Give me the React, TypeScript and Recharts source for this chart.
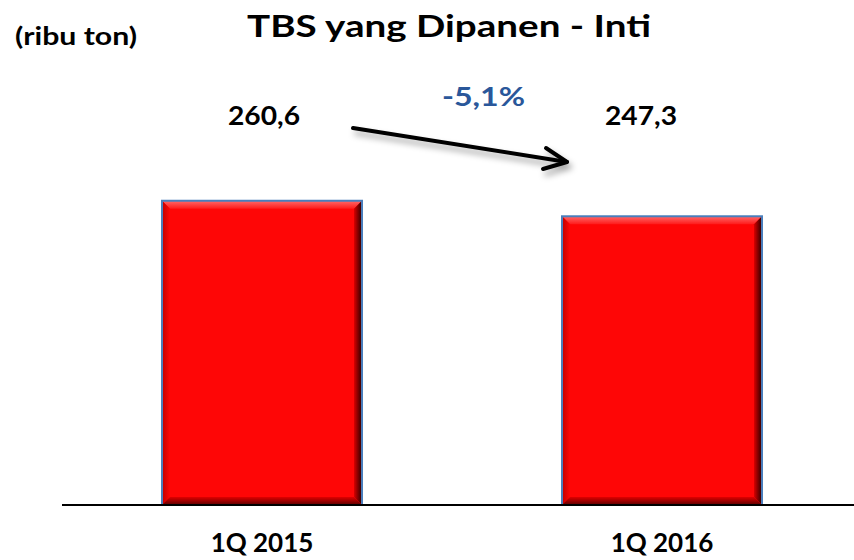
import { BarChart, Bar, XAxis, YAxis, LabelList } from 'recharts';

const periods = ['1Q 2015', '1Q 2016'];
const harvested = [260.6, 247.3];
const valueLabels = ['260,6', '247,3'];
const changeLabel = '-5,1%';
const titleText = 'TBS yang Dipanen - Inti';
const unitText = '(ribu ton)';

const data = periods.map((period, i) => ({
  period,
  value: harvested[i],
  label: valueLabels[i],
}));

const FONT = 'Lato, "Open Sans", sans-serif';
const labelShift = [2, -21];

function BevelBar(props: any) {
  const { x, y, width: w, height: h, index } = props;
  if (!w || !h) return null;
  const b = 8;
  const id = `bev${index}`;
  return (
    <g>
      <defs>
        <linearGradient id={`${id}t`} x1="0" y1="0" x2="0" y2="1">
          <stop offset="0%" stopColor="#ff6a6a" />
          <stop offset="100%" stopColor="#ff1a1a" />
        </linearGradient>
        <linearGradient id={`${id}r`} x1="0" y1="0" x2="1" y2="0">
          <stop offset="0%" stopColor="#d80000" />
          <stop offset="100%" stopColor="#2a0000" />
        </linearGradient>
        <linearGradient id={`${id}b`} x1="0" y1="0" x2="0" y2="1">
          <stop offset="0%" stopColor="#e00000" />
          <stop offset="100%" stopColor="#5a0000" />
        </linearGradient>
        <linearGradient id={`${id}l`} x1="0" y1="0" x2="1" y2="0">
          <stop offset="0%" stopColor="#c00000" />
          <stop offset="100%" stopColor="#fe0606" />
        </linearGradient>
      </defs>
      <rect x={x} y={y} width={w} height={h} fill="#fe0606" />
      <polygon
        points={`${x},${y} ${x + w},${y} ${x + w - b},${y + b} ${x + b},${y + b}`}
        fill={`url(#${id}t)`}
      />
      <polygon
        points={`${x},${y} ${x + b},${y + b} ${x + b},${y + h - b} ${x},${y + h}`}
        fill={`url(#${id}l)`}
      />
      <polygon
        points={`${x + w},${y} ${x + w},${y + h} ${x + w - b},${y + h - b} ${x + w - b},${y + b}`}
        fill={`url(#${id}r)`}
      />
      <polygon
        points={`${x},${y + h} ${x + w},${y + h} ${x + w - b},${y + h - b} ${x + b},${y + h - b}`}
        fill={`url(#${id}b)`}
      />
      <rect x={x} y={y} width={w} height={h} fill="none" stroke="#4a7ebb" strokeWidth={2} />
    </g>
  );
}

function ValueLabel(props: any) {
  const { x, width, value, index } = props;
  return (
    <text
      x={x + width / 2 + labelShift[index]}
      y={125}
      textAnchor="middle"
      fontFamily={FONT}
      fontWeight={700}
      fontSize={27}
      textLength={72}
      lengthAdjust="spacingAndGlyphs"
      fill="#000"
    >
      {value}
    </text>
  );
}

export default function App() {
  return (
    <div style={{ position: 'absolute', left: 0, top: 0, width: 854, height: 560, background: '#fff' }}>
      <BarChart
        width={854}
        height={560}
        data={data}
        margin={{ top: 38, right: -8, bottom: 25, left: 62 }}
        barSize={200}
      >
        <XAxis
          dataKey="period"
          axisLine={{ stroke: '#000', strokeWidth: 2 }}
          tickLine={false}
          tickSize={0}
          tickMargin={29}
          tick={{ fontFamily: FONT, fontWeight: 700, fontSize: 26, fill: '#000' }}
        />
        <YAxis hide domain={[0, 400]} />
        <Bar dataKey="value" shape={<BevelBar />} isAnimationActive={false}>
          <LabelList dataKey="label" content={<ValueLabel />} />
        </Bar>
      </BarChart>
      <svg
        width={854}
        height={560}
        style={{ position: 'absolute', left: 0, top: 0, pointerEvents: 'none' }}
      >
        <defs>
          <filter id="arrowShadow" x="-20%" y="-50%" width="140%" height="200%">
            <feDropShadow dx={3} dy={5} stdDeviation={3} floodColor="#000" floodOpacity={0.35} />
          </filter>
        </defs>
        <text
          x={15}
          y={45}
          fontFamily={FONT}
          fontWeight={700}
          fontSize={24}
          textLength={122}
          lengthAdjust="spacingAndGlyphs"
          fill="#000"
        >
          {unitText}
        </text>
        <text
          x={247}
          y={37}
          fontFamily={FONT}
          fontWeight={700}
          fontSize={31}
          textLength={404}
          lengthAdjust="spacingAndGlyphs"
          fill="#000"
        >
          {titleText}
        </text>
        <text
          x={442}
          y={106}
          fontFamily={FONT}
          fontWeight={700}
          fontSize={27}
          textLength={83}
          lengthAdjust="spacingAndGlyphs"
          fill="#2a579a"
        >
          {changeLabel}
        </text>
        <g filter="url(#arrowShadow)" stroke="#000" strokeWidth={4} strokeLinecap="round" fill="none">
          <line x1={353} y1={128} x2={567} y2={162} />
          <polyline points="546,148 567,162 543,169" strokeLinejoin="round" />
        </g>
      </svg>
    </div>
  );
}
